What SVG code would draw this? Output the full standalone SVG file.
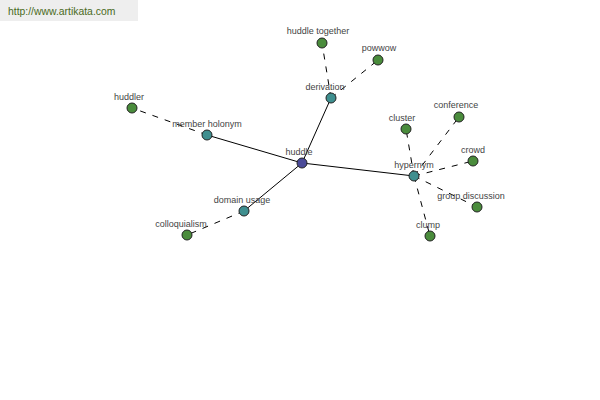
<svg xmlns="http://www.w3.org/2000/svg" width="600" height="400" viewBox="0 0 600 400">
<style>
.lbl{font-family:"Liberation Sans",Arial,sans-serif;font-size:9px;fill:#444;text-anchor:middle}
.n{stroke:#222;stroke-width:1}
.g{fill:#4a8c3c}
.t{fill:#3f8f8f}
.b{fill:#4a4a98}
.s{stroke:#000;stroke-width:1;fill:none}
.d{stroke:#000;stroke-width:1;fill:none;stroke-dasharray:6,7}
</style>
<rect width="600" height="400" fill="#fff"/>
<rect x="0" y="0" width="138" height="21" fill="#eeeeee"/>
<text x="8" y="15" font-family="Liberation Sans,Arial,sans-serif" font-size="10.4" fill="#4a6a22">http://www.artikata.com</text>
<g id="connectors">
<line class="s" x1="302" y1="163" x2="331" y2="98"/>
<line class="s" x1="302" y1="163" x2="207" y2="135"/>
<line class="s" x1="302" y1="163" x2="244" y2="211"/>
<line class="s" x1="302" y1="163" x2="414" y2="176"/>
<line class="d" x1="331" y1="98" x2="322" y2="43"/>
<line class="d" x1="331" y1="98" x2="378" y2="60"/>
<line class="d" x1="207" y1="135" x2="132" y2="108"/>
<line class="d" x1="244" y1="211" x2="187" y2="235"/>
<line class="d" x1="414" y1="176" x2="406" y2="129"/>
<line class="d" x1="414" y1="176" x2="459" y2="117"/>
<line class="d" x1="414" y1="176" x2="473" y2="161"/>
<line class="d" x1="414" y1="176" x2="477" y2="207"/>
<line class="d" x1="414" y1="176" x2="430" y2="236"/>
</g>
<g id="huddle"><circle class="n b" cx="302" cy="163" r="5"/><text class="lbl" x="299" y="155">huddle</text></g>
<g id="derivation"><circle class="n t" cx="331" cy="98" r="5"/><text class="lbl" x="325" y="90">derivation</text></g>
<g id="huddle-together"><circle class="n g" cx="322" cy="43" r="5"/><text class="lbl" x="318" y="34">huddle together</text></g>
<g id="powwow"><circle class="n g" cx="378" cy="60" r="5"/><text class="lbl" x="379" y="51">powwow</text></g>
<g id="member-holonym"><circle class="n t" cx="207" cy="135" r="5"/><text class="lbl" x="207" y="127">member holonym</text></g>
<g id="huddler"><circle class="n g" cx="132" cy="108" r="5"/><text class="lbl" x="129" y="100">huddler</text></g>
<g id="domain-usage"><circle class="n t" cx="244" cy="211" r="5"/><text class="lbl" x="242" y="203">domain usage</text></g>
<g id="colloquialism"><circle class="n g" cx="187" cy="235" r="5"/><text class="lbl" x="181" y="227">colloquialism</text></g>
<g id="hypernym"><circle class="n t" cx="414" cy="176" r="5"/><text class="lbl" x="414" y="168">hypernym</text></g>
<g id="cluster"><circle class="n g" cx="406" cy="129" r="5"/><text class="lbl" x="402" y="121">cluster</text></g>
<g id="conference"><circle class="n g" cx="459" cy="117" r="5"/><text class="lbl" x="456" y="108">conference</text></g>
<g id="crowd"><circle class="n g" cx="473" cy="161" r="5"/><text class="lbl" x="473" y="153">crowd</text></g>
<g id="group-discussion"><circle class="n g" cx="477" cy="207" r="5"/><text class="lbl" x="471" y="199">group discussion</text></g>
<g id="clump"><circle class="n g" cx="430" cy="236" r="5"/><text class="lbl" x="428" y="228">clump</text></g>
</svg>
